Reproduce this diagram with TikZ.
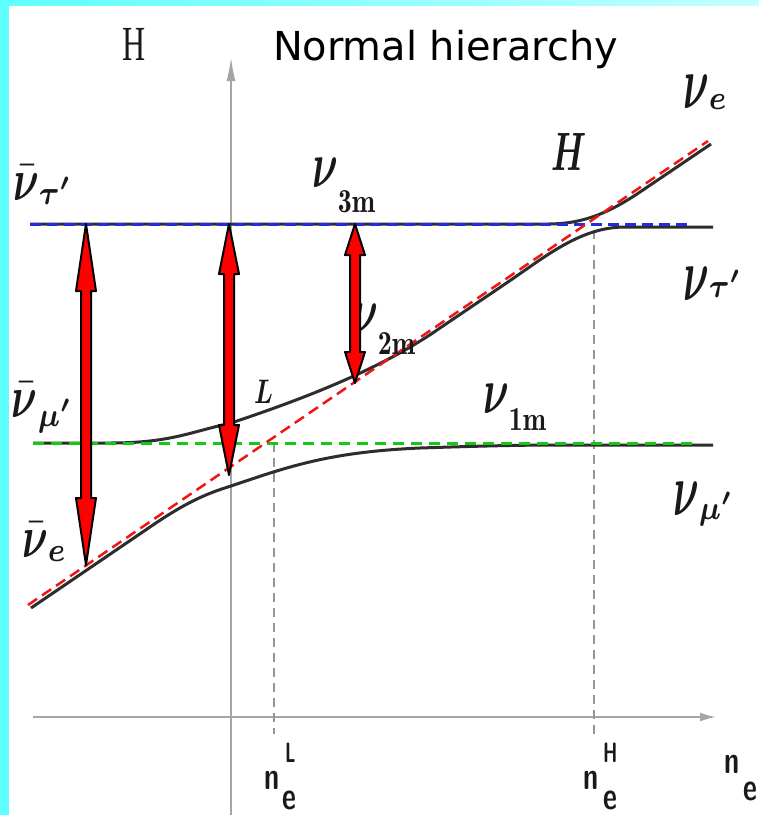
\documentclass[tikz,border=0pt]{standalone}
\usepackage{fontspec}
\usepackage{graphicx}
\usepackage{bm}
\newfontfamily\titlefont{DejaVu Sans}
\newfontfamily\timesfont{Liberation Serif}
\usetikzlibrary{arrows.meta,calc}
\definecolor{cyanL}{RGB}{95,255,255}
\definecolor{cyanR}{RGB}{195,255,255}
\definecolor{curvegray}{RGB}{45,45,45}
\definecolor{axisgray}{RGB}{165,165,165}
\definecolor{guidegray}{RGB}{150,150,150}
\definecolor{levblue}{RGB}{35,45,215}
\definecolor{levgreen}{RGB}{20,200,20}
\definecolor{levred}{RGB}{240,20,20}
\definecolor{labgray}{RGB}{25,25,25}
\newcommand\mainsym[2][6.6]{\scalebox{4.0}[#1]{$\bm{#2}$}}
\newcommand\subsym[2]{\raisebox{#1}{\scalebox{4.0}[4.8]{$\scriptstyle\bm{#2}$}}}
\newcommand\nelab[1]{\scalebox{2.7}[3.9]{\sffamily\bfseries #1}}
\newcommand\suplab[1]{\scalebox{1.8}[2.8]{\sffamily\bfseries #1}}
\newcommand\dblarr[2]{%
  \filldraw[dblarrow] (#1t) -- ($(#1t)+(10,#2)$) -- ($(#1t)+(5,#2)$)
    -- ($(#1b)+(5,-#2)$) -- ($(#1b)+(10,-#2)$) -- (#1b)
    -- ($(#1b)+(-10,-#2)$) -- ($(#1b)+(-5,-#2)$)
    -- ($(#1t)+(-5,#2)$) -- ($(#1t)+(-10,#2)$) -- cycle;}
\tikzset{
 curve/.style={draw=curvegray, line width=3pt, line join=round},
 axisline/.style={draw=axisgray, line width=2pt},
 guide/.style={draw=guidegray, line width=1.5pt, dash pattern=on 9pt off 6pt},
 bluelev/.style={draw=levblue, line width=3pt, dash pattern=on 11pt off 6pt},
 greenlev/.style={draw=levgreen, line width=3pt, dash pattern=on 11pt off 7pt},
 redlev/.style={draw=levred, line width=2.5pt, dash pattern=on 11pt off 6pt},
 dblarrow/.style={fill=red, draw=black, line width=2pt, line join=round},
 lbl/.style={inner sep=0pt, outer sep=0pt, anchor=base west, text=labgray},
}
\begin{document}
\begin{tikzpicture}[x=1pt,y=-1pt]
\useasboundingbox (0,0) rectangle (759,815);
\fill[white] (0,0) rectangle (759,815);
\shade[left color=cyanL, right color=cyanR] (0,0) rectangle (759,5);
\fill[cyanL] (0,0) rectangle (9,815);

% axes
\coordinate (yb) at (231,815);
\coordinate (yt) at (231,57);
\coordinate (xl) at (33,717);
\coordinate (xr) at (716,717);
\draw[axisline,-{Latex[length=24pt,width=9pt]}] (yb) -- (yt);
\draw[axisline,-{Latex[length=16pt,width=9pt]}] (xl) -- (xr);

% guide lines
\coordinate (gLt) at (274,443);
\coordinate (gLb) at (274,734);
\coordinate (gHt) at (594,230);
\coordinate (gHb) at (594,734);
\draw[guide] (gLt) -- (gLb);
\draw[guide] (gHt) -- (gHb);

% level curves
\draw[curve] (30,224) -- (548,224) .. controls (580,224) and (606,215) .. (640,192) -- (711,144);
\draw[curve] (33,443) -- (110,443) .. controls (170,443) and (190,432) .. (231,423)
   .. controls (300,400) and (380,370) .. (440,328) -- (505,284)
   .. controls (545,257) and (580,227) .. (625,227) -- (713,227);
\draw[curve] (31,608) -- (150,527) .. controls (185,503) and (205,494) .. (231,486)
   .. controls (290,466) and (330,452) .. (420,448)
   .. controls (480,446) and (520,445) .. (560,445) -- (713,445);

% flavour lines
\coordinate (bl) at (30,224); \coordinate (br) at (693,224);
\coordinate (gl) at (33,443); \coordinate (gr) at (697,443);
\coordinate (rl) at (28,605); \coordinate (rr) at (708,141);
\draw[bluelev] (bl) -- (br);
\draw[greenlev] (gl) -- (gr);
\draw[redlev] (rl) -- (rr);

% labels
\node[lbl] (tH) at (122,60) {\scalebox{3.2}[4.9]{\timesfont H}};
\node[lbl, text=black] (title) at (273,60) {\resizebox{345pt}{!}{\titlefont Normal hierarchy}};
\node[lbl] (lnt) at (13,200) {\mainsym[6]{\bar\nu}\subsym{-4.5pt}{\tau'}};
\node[lbl] (lnm) at (12,417) {\mainsym[6]{\bar\nu}\subsym{-9.5pt}{\mu'}};
\node[lbl] (lne) at (22,557) {\mainsym[6]{\bar\nu}\subsym{-4.5pt}{e}};
\node[lbl] (n3) at (312,187) {\mainsym{\nu}\subsym{-25pt}{\mathrm{3m}}};
\node[lbl] (n2) at (352,333) {\mainsym{\nu}\subsym{-21pt}{\mathrm{2m}}};
\node[lbl] (n1) at (483,413) {\mainsym{\nu}\subsym{-17pt}{\mathrm{1m}}};
\node[lbl] (rne) at (683,108) {\mainsym[7.5]{\nu}\subsym{-1.5pt}{e}};
\node[lbl] (rnt) at (683,300) {\mainsym[7.5]{\nu}\subsym{2.5pt}{\tau'}};
\node[lbl] (rnm) at (673,515) {\mainsym[7.5]{\nu}\subsym{-4.5pt}{\mu'}};
\node[lbl] (Lres) at (254,403) {\scalebox{2.5}[3.4]{$\bm{L}$}};
\node[lbl] (Hres) at (551,170) {\scalebox{3.3}[5.4]{$\bm{H}$}};
\node[lbl] (neLn) at (264,789) {\nelab{n}};
\node[lbl] (neLe) at (282,809) {\nelab{e}};
\node[lbl] (neLs) at (285,762) {\suplab{L}};
\node[lbl] (neHn) at (583,789) {\nelab{n}};
\node[lbl] (neHe) at (603,809) {\nelab{e}};
\node[lbl] (neHs) at (603,762) {\suplab{H}};
\node[lbl] (nen) at (724,773) {\nelab{n}};
\node[lbl] (nee) at (743,800) {\nelab{e}};

% double arrows
\coordinate (Aat) at (86,224);  \coordinate (Aab) at (86,565);
\coordinate (Abt) at (229,224); \coordinate (Abb) at (229,475);
\coordinate (Act) at (355,224); \coordinate (Acb) at (355,383);
\dblarr{Aa}{67}
\dblarr{Ab}{50}
\dblarr{Ac}{31}
\end{tikzpicture}
\end{document}
